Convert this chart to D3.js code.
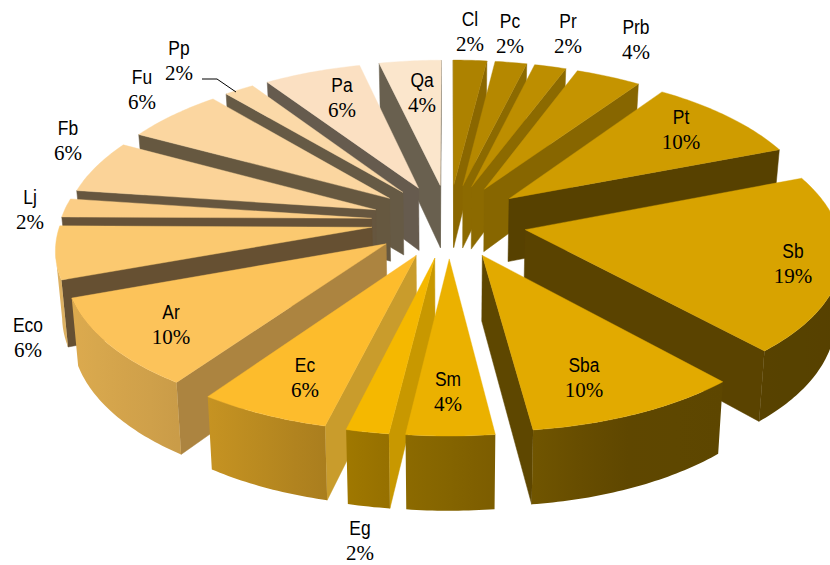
<!DOCTYPE html>
<html>
<head>
<meta charset="utf-8">
<script src="https://d3js.org/d3.v7.min.js"></script>
<style>
body { margin: 0; background: #fff; }
svg { display: block; }
.name { font-family: "Liberation Sans", Arial, sans-serif; font-size: 20px; fill: #000; text-anchor: middle; }
.pct { font-family: "Liberation Serif", "Times New Roman", serif; font-size: 21px; fill: #000; text-anchor: middle; }
</style>
</head>
<body>
<div id="chart"></div>
<script>
const names = ["Cl","Pc","Pr","Prb","Pt","Sb","Sba","Sm","Eg","Ec","Ar","Eco","Lj","Fb","Fu","Pp","Pa","Qa"];
const values = [2.0,1.9,1.9,3.9,9.5,19.2,9.7,3.9,1.9,5.9,9.8,5.7,2.0,5.7,5.9,1.8,5.8,3.7];

const topColors = ["#ad8200","#b58800","#bd8e00","#c59400","#cf9c00","#d8a300","#e2aa00","#ebb100","#f5b800",
    "#fdbc2c","#fcc35a","#fbc970","#fbcd85","#fbd398","#fbd6a0","#fbd9a8","#fbe0c2","#fbe6cc"];
const faceColors = ["#8a6700","#8c6a00","#8c6a00","#876600","#574100","#5a4300","#5e4700","#8a6700","#c89800",
    "#c99c2c","#ac8440","#665032","#665238","#66563f","#665840","#665a45","#665b4e","#69604f"];

// where the labels sit, same order as names: x, name baseline
const labelAt = [[470,26],[510,28],[568,28],[636,34],[681,124],[793,258],[584,372],[448,386],[360,535],
    [305,372],[171,319],[28,332],[30,204],[68,135],[142,84],[179,55],[342,92],[422,87]];
const leader = [[202,79],[217,79],[236,92]];

// projection of the pie plane, fitted by eye
const cx = 449, cy = 221, scaleX = 311, scaleY = 147.3, persp = 0.115, perspX = 0.125, thick = 64, explode = 0.25;

function project(u, v, bottom) {
    const s = 1 / (1 + persp * v);
    const sx = 1 / (1 + perspX * v);
    return [
        cx + scaleX * u * sx * (bottom ? 0.983 : 1),
        cy - scaleY * v * s + (bottom ? thick * s : 0)
    ];
}

const svg = d3.select("#chart").append("svg")
    .attr("width", 830)
    .attr("height", 565);
const defs = svg.append("defs");

const rimShade = d3.scaleLinear()
    .domain([60, 210, 390, 530, 620, 830])
    .range([0.88, 0.78, 0.61, 0.5, 0.42, 0.4]);

const pie = d3.pie().sort(null).value(d => d);
const slices = pie(values).map((d, i) => {
    const mid = (d.startAngle + d.endAngle) / 2;
    return {
        i: i,
        t0: d.startAngle,
        t1: d.endAngle,
        ox: explode * Math.sin(mid),
        oy: explode * Math.cos(mid)
    };
});

const line = d3.line();

function area(pts) {
    let a = 0;
    pts.forEach((p, j) => {
        const q = pts[(j + 1) % pts.length];
        a += p[0] * q[1] - q[0] * p[1];
    });
    return a / 2;
}

// back slices first
slices.sort((a, b) => (b.oy - a.oy));

slices.forEach(function(sl) {
    const g = svg.append("g");
    const at = (t, bottom) => project(sl.ox + Math.sin(t), sl.oy + Math.cos(t), bottom);
    const apex = project(sl.ox, sl.oy, false);
    const apexB = project(sl.ox, sl.oy, true);
    const n = Math.max(4, Math.ceil((sl.t1 - sl.t0) / 0.015));
    const ts = d3.range(n + 1).map(j => sl.t0 + (sl.t1 - sl.t0) * j / n);

    // cut faces, only when they turn to the viewer
    const startFace = [apex, apexB, at(sl.t0, true), at(sl.t0, false)];
    const endFace = [apex, at(sl.t1, false), at(sl.t1, true), apexB];
    [startFace, endFace].forEach(function(pts) {
        if (area(pts) > 0) {
            g.append("path")
                .attr("d", line(pts) + "Z")
                .attr("fill", faceColors[sl.i])
                .attr("stroke", faceColors[sl.i])
                .attr("stroke-width", 0.5);
        }
    });

    // rim, the part running right to left is the front
    const vis = ts.filter((t, j) => {
        const a = at(t, false);
        const b = at(j < n ? ts[j + 1] : t + 0.01, false);
        return b[0] < a[0];
    });
    if (vis.length > 1) {
        const upper = vis.map(t => at(t, false));
        const lower = vis.map(t => at(t, true)).reverse();
        const xs = d3.extent(upper, p => p[0]);
        const base = d3.color(topColors[sl.i]);
        const gid = "rim" + sl.i;
        const grad = defs.append("linearGradient")
            .attr("id", gid)
            .attr("gradientUnits", "userSpaceOnUse")
            .attr("x1", xs[0]).attr("x2", xs[1])
            .attr("y1", 0).attr("y2", 0);
        d3.range(5).forEach(function(j) {
            const x = xs[0] + (xs[1] - xs[0]) * j / 4;
            const f = rimShade(x);
            grad.append("stop")
                .attr("offset", j / 4)
                .attr("stop-color", d3.rgb(base.r * f, base.g * f, base.b * f));
        });
        g.append("path")
            .attr("d", line(upper.concat(lower)) + "Z")
            .attr("fill", "url(#" + gid + ")");
    }

    // top
    g.append("path")
        .attr("d", line([apex].concat(ts.map(t => at(t, false)))) + "Z")
        .attr("fill", topColors[sl.i])
        .attr("stroke", topColors[sl.i])
        .attr("stroke-width", 0.4);
});

const labels = svg.append("g").selectAll("g")
    .data(names)
    .enter().append("g");

labels.append("text")
    .attr("class", "name")
    .attr("transform", (d, i) => "translate(" + labelAt[i][0] + "," + labelAt[i][1] + ") scale(0.87,1)")
    .text(d => d);

labels.append("text")
    .attr("class", "pct")
    .attr("x", (d, i) => labelAt[i][0])
    .attr("y", (d, i) => labelAt[i][1] + 25)
    .text((d, i) => Math.round(values[i]) + "%");

svg.append("path")
    .attr("d", line(leader))
    .attr("fill", "none")
    .attr("stroke", "#000")
    .attr("stroke-width", 1);
</script>
</body>
</html>
